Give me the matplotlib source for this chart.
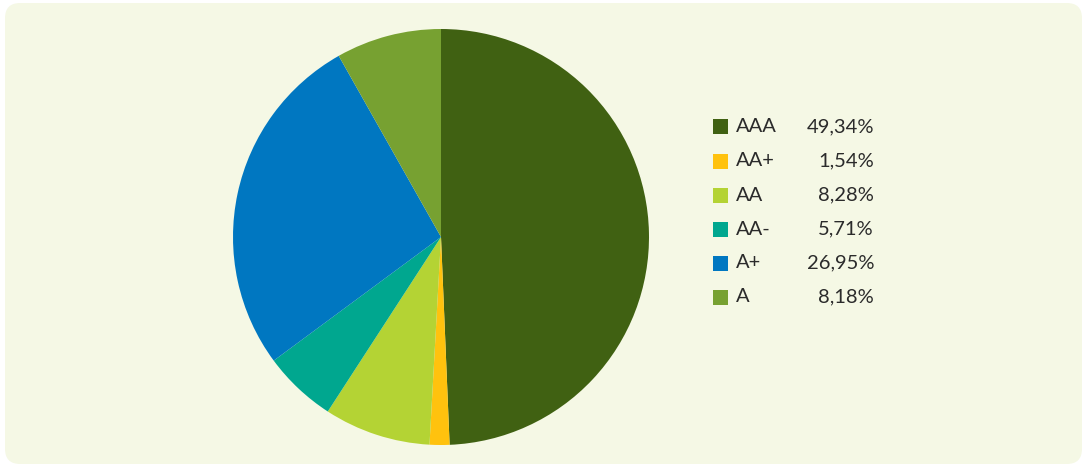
import matplotlib.pyplot as plt
from matplotlib.patches import FancyBboxPatch

ratings = ['AAA', 'AA+', 'AA', 'AA-', 'A+', 'A']
shares = [49.34, 1.54, 8.28, 5.71, 26.95, 8.18]
colors = ['#406112', '#FFC20E', '#B4D334', '#00A78F', '#0077C1', '#77A131']

plt.rcParams['font.family'] = ['Lato', 'DejaVu Sans']

fig = plt.figure(figsize=(10.87, 4.68), dpi=100)
fig.patch.set_facecolor('white')

# rounded panel behind everything
bg = FancyBboxPatch((5 / 1087, 4 / 468), 1077 / 1087, 461 / 468,
                    boxstyle='round,pad=0,rounding_size=0.014',
                    transform=fig.transFigure, facecolor='#F5F8E5',
                    edgecolor='none', mutation_aspect=1087 / 468, zorder=-10)
fig.patches.append(bg)

# pie: centre (441, 237), radius 208 px
ax = fig.add_axes([(441 - 208) / 1087, (468 - 237 - 208) / 468,
                   416 / 1087, 416 / 468])
ax.set_zorder(5)
ax.pie(shares, colors=colors, startangle=90, counterclock=False,
       wedgeprops=dict(linewidth=0))
ax.set_xlim(-1, 1)
ax.set_ylim(-1, 1)
ax.set_aspect('equal')
ax.axis('off')

# legend rows
y0 = 127
for i, (r, s, c) in enumerate(zip(ratings, shares, colors)):
    y = 1 - (y0 + 34 * i) / 468
    fig.patches.append(plt.Rectangle((713 / 1087, y - 7.5 / 468), 15 / 1087, 15 / 468,
                                     transform=fig.transFigure, facecolor=c,
                                     edgecolor='none'))
    fig.text(736 / 1087, y, r, fontsize=14.5, color='#2b2b2b', va='center', ha='left')
    fig.text(874 / 1087, y, f'{s:.2f}%'.replace('.', ','), fontsize=14.5,
             color='#2b2b2b', va='center', ha='right')

fig.savefig('out.png', dpi=100, facecolor=fig.get_facecolor())
